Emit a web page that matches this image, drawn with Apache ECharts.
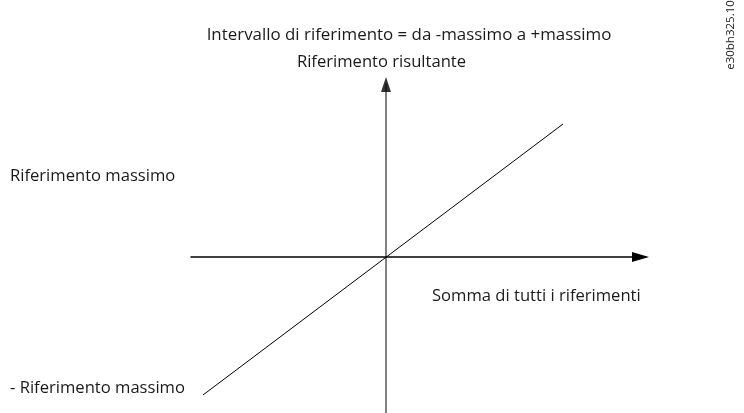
<!DOCTYPE html>
<html><head><meta charset="utf-8">
<script src="https://cdn.jsdelivr.net/npm/echarts@6/dist/echarts.min.js"></script>
<style>html,body{margin:0;padding:0;background:#fff}#c{width:744px;height:413px}</style>
</head><body><div id="c"></div>
<script>
// Data: resulting reference vs. sum of references (units: 1 = 100 px)
const lineX = [-1.83, 1.77];
const lineY = [-1.38, 1.33];
const xRange = [-1.95, 2.545];
const yRange = [-1.56, 1.725];
const topTitle = 'Intervallo di riferimento = da -massimo a +massimo';
const yName = 'Riferimento risultante';
const xName = 'Somma di tutti i riferimenti';
const maxLabel = 'Riferimento massimo';
const minLabel = '- Riferimento massimo';
const code = 'e30bh325.10';

const FONT = '"Open Sans"';
const TXT = '#1a1a1a';
const F = '16.6px ' + FONT;
const chart = echarts.init(document.getElementById('c'));
chart.setOption({
  animation: false,
  grid: { left: 191, right: 103.5, top: 84.5, bottom: 0 },
  xAxis: {
    type: 'value', min: xRange[0], max: xRange[1],
    axisLine: { onZero: true, symbol: ['none', 'triangle'], symbolSize: [10, 17], lineStyle: { color: '#000', width: 1.5 } },
    axisTick: { show: false }, axisLabel: { show: false }, splitLine: { show: false }
  },
  yAxis: {
    type: 'value', min: yRange[0], max: yRange[1],
    axisLine: { onZero: true, symbol: ['none', 'none'], lineStyle: { color: '#808080', width: 2 } },
    axisTick: { show: false }, axisLabel: { show: false }, splitLine: { show: false }
  },
  series: [
    {
      type: 'line', data: lineX.map((x, i) => [x, lineY[i]]),
      symbol: 'none', lineStyle: { color: '#000', width: 1 }, silent: true
    },
    {
      type: 'scatter', data: [[0, yRange[1]]], symbol: 'triangle', symbolSize: [10, 15],
      itemStyle: { color: '#000' }, silent: true, z: 5
    }
  ],
  graphic: [
    { type: 'text', x: 409, y: 35, style: { text: topTitle, font: '16.9px ' + FONT, fill: TXT, align: 'center', verticalAlign: 'middle' } },
    { type: 'text', x: 381.5, y: 62, style: { text: yName, font: F, fill: TXT, align: 'center', verticalAlign: 'middle' } },
    { type: 'text', x: 10, y: 176, style: { text: maxLabel, font: F, fill: TXT, align: 'left', verticalAlign: 'middle' } },
    { type: 'text', x: 10, y: 388, style: { text: minLabel, font: F, fill: TXT, align: 'left', verticalAlign: 'middle' } },
    { type: 'text', x: 432, y: 296, style: { text: xName, font: F, fill: TXT, align: 'left', verticalAlign: 'middle' } },
    { type: 'text', x: 731, y: 35, rotation: Math.PI / 2, style: { text: code, font: '11.5px ' + FONT, fill: TXT, align: 'center', verticalAlign: 'middle' } }
  ]
});
</script></body></html>
